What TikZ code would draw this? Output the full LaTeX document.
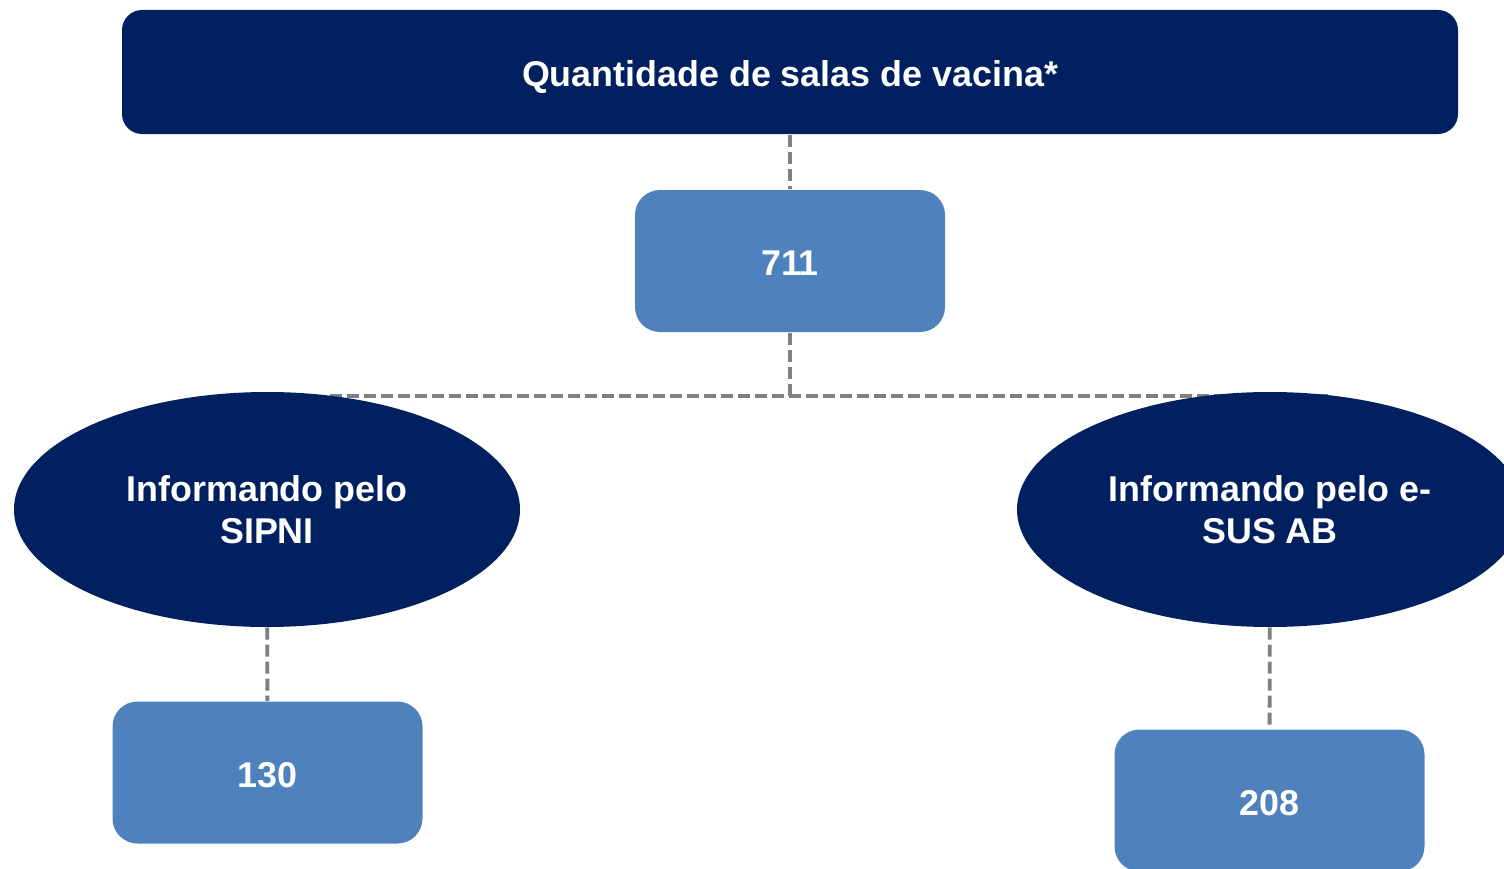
\documentclass[tikz,border=0pt]{standalone}
\usepackage{fontspec}
\setmainfont{Liberation Sans}
\usetikzlibrary{shapes.geometric,backgrounds}
\definecolor{navy}{RGB}{0,32,96}
\definecolor{steel}{RGB}{79,129,189}
\tikzset{
  banner/.style={fill=navy, rounded corners=0.2cm, minimum width=13.36cm, minimum height=1.24cm, text height=0.9em, text depth=0.06em},
  valbox/.style={fill=steel, rounded corners=0.25cm, minimum width=3.1cm, minimum height=1.42cm, text height=0.9em, text depth=0.06em},
  sysoval/.style={ellipse, fill=navy, minimum width=5.06cm, minimum height=2.35cm, inner sep=0pt, align=center},
  link/.style={draw=gray, line width=1.1pt, dash pattern=on 0.12cm off 0.05cm}
}
\begin{document}
\begin{tikzpicture}[every node/.style={text=white, font=\fontsize{10.2}{11.9}\selectfont\bfseries}]
  \useasboundingbox (0,0) rectangle (15.04,8.68);
  \draw
    (7.90,7.96) node[banner] (top){Quantidade de salas de vacina*}
    (7.90,6.07) node[valbox] (total){711}
    (2.67,3.585) node[sysoval] (sipni){Informando pelo\\SIPNI}
    (12.70,3.585) node[sysoval] (esus){Informando pelo e-\\SUS AB}
    (2.675,0.955) node[valbox] (nsipni){130}
    (12.695,0.675) node[valbox] (nesus){208};
  \coordinate (fork) at (7.90,4.72);
  \coordinate (forkl) at (3.30,4.72);
  \coordinate (forkr) at (13.30,4.72);
  \begin{scope}[on background layer]
    \draw[link] (top) to (total);
    \draw[link] (total) to (fork);
    \draw[link] (forkl) to (forkr);
    \draw[link] (sipni) to (nsipni);
    \draw[link] (esus) to (nesus);
  \end{scope}
\end{tikzpicture}
\end{document}
